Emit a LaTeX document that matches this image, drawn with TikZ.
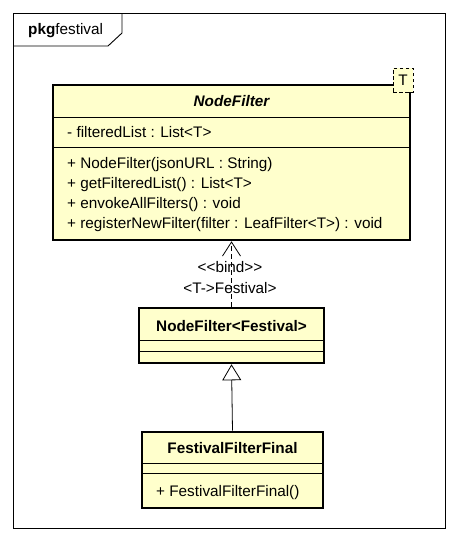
\documentclass[tikz,border=0pt]{standalone}
\usepackage{fontspec}
\setmainfont{Liberation Sans}[Ligatures = TeXOff]
\usepackage{tikz}
\usetikzlibrary{positioning}
\usetikzlibrary{arrows.meta}
\definecolor{class_fill}{RGB}{255,255,204}
\tikzset{
  uml_font/.style={font = \fontsize{15.3}{18}\selectfont},
  frame_line/.style={line width = 0.9pt, color = black},
  class_box/.style={draw, line width = 2.6pt, fill = class_fill, inner sep = 0},
  class_sep/.style={line width = 0.8pt, color = black},
  template_box/.style={draw, dash pattern = on 3.5pt off 2.5pt, line width = 0.8pt, fill = class_fill, minimum width = 20, minimum height = 24, inner sep = 0, uml_font},
  class_name/.style={inner sep = 0, font = \fontsize{15.3}{18}\selectfont\bfseries},
  member/.style={anchor = west, inner sep = 0, uml_font},
  arrow_bind/.style={-{Straight Barb[length = 14pt, width = 18pt]}, dash pattern = on 5pt off 3pt, line width = 0.8pt},
  arrow_gen/.style={-{Triangle[open, length = 16pt, width = 19pt, fill = white]}, line width = 0.8pt}
}
\begin{document}
\begin{tikzpicture}[x = 1pt, y = -1pt]
\useasboundingbox (0,0) rectangle (457,541);

%% package frame
\draw[frame_line] (13,13) rectangle (445,528);
\draw[frame_line] (13,46) -- (108,46) -- (122,33) -- (122,13);
\node[draw = none, anchor = west, inner sep = 0, uml_font] at (28,31) (pkg) {\textbf{pkg}festival};

%% NodeFilter
\node[class_box, minimum width = 357, minimum height = 155] at (231.5,162.5) (nodefilter) {};
\draw[class_sep] (53,117) -- (410,117);
\draw[class_sep] (53,147) -- (410,147);
\node[template_box] at (403,80) (tparam) {T};
\node[class_name, font = \fontsize{15.3}{18}\selectfont\bfseries\itshape] at (231.5,101) (nf_name) {NodeFilter};
\node[member] at (67,132) (nf_attr) {- filteredList : List<T>};
\node[member] at (67,165) (nf_op1) {+ NodeFilter(jsonURL : String)};
\node[member] at (67,185) (nf_op2) {+ getFilteredList() : List<T>};
\node[member] at (67,204.5) (nf_op3) {+ envokeAllFilters() : void};
\node[member] at (67,224.5) (nf_op4) {+ registerNewFilter(filter : LeafFilter<T>) : void};

%% NodeFilter<Festival>
\node[class_box, minimum width = 185, minimum height = 55] at (231.5,335.5) (nf_festival) {};
\draw[class_sep] (139,340) -- (324,340);
\draw[class_sep] (139,351) -- (324,351);
\node[class_name] at (231.5,326.5) (nff_name) {NodeFilter<Festival>};

%% FestivalFilterFinal
\node[class_box, minimum width = 181, minimum height = 76] at (232.5,470) (festival_final) {};
\draw[class_sep] (142,463) -- (323,463);
\draw[class_sep] (142,473) -- (323,473);
\node[class_name] at (232.5,448) (ff_name) {FestivalFilterFinal};
\node[member] at (156,492.5) (ff_op1) {+ FestivalFilterFinal()};

%% arrows
\draw[arrow_bind] (nf_festival.north) -- (nodefilter.south);
\node[draw = none, inner sep = 0, uml_font] at (230,267) (bind_label) {<<bind>>};
\node[draw = none, inner sep = 0, uml_font] at (230,288) (bind_args) {<T->Festival>};

\draw[arrow_gen] (festival_final.north) -- (nf_festival.south);

\end{tikzpicture}
\end{document}
